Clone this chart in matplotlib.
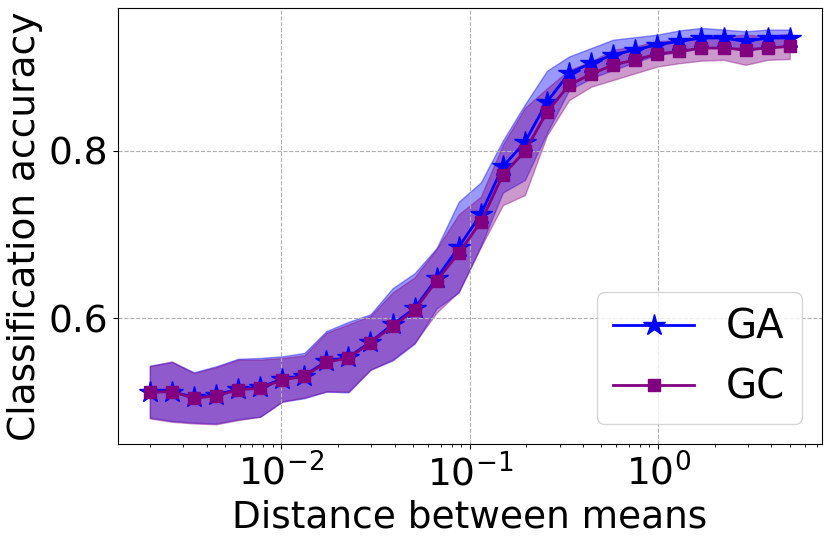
import matplotlib
matplotlib.use("Agg")
import matplotlib.pyplot as plt
import numpy as np

# distance between means (log-spaced grid, 30 points)
dist = [0.002, 0.00262, 0.00343, 0.00449, 0.00588, 0.00771, 0.01009, 0.01322,
        0.01731, 0.02268, 0.0297, 0.0389, 0.05094, 0.06672, 0.08738, 0.1144,
        0.1499, 0.1963, 0.2571, 0.3367, 0.441, 0.5776, 0.7565, 0.9908,
        1.2976, 1.6995, 2.2259, 2.9153, 3.8182, 5.0]

ga_mean = [0.513, 0.513, 0.506, 0.509, 0.516, 0.518, 0.528, 0.532, 0.549, 0.554,
           0.572, 0.593, 0.612, 0.648, 0.685, 0.724, 0.781, 0.810, 0.858, 0.892,
           0.904, 0.914, 0.920, 0.926, 0.930, 0.934, 0.934, 0.930, 0.934, 0.934]
ga_std = [0.031, 0.035, 0.030, 0.034, 0.036, 0.035, 0.027, 0.027, 0.036, 0.042,
          0.033, 0.043, 0.042, 0.036, 0.054, 0.038, 0.031, 0.045, 0.037, 0.020,
          0.018, 0.018, 0.015, 0.012, 0.013, 0.012, 0.010, 0.012, 0.010, 0.010]

gc_mean = [0.512, 0.513, 0.505, 0.508, 0.515, 0.517, 0.527, 0.531, 0.548, 0.553,
           0.571, 0.591, 0.610, 0.645, 0.678, 0.715, 0.771, 0.799, 0.846, 0.878,
           0.891, 0.902, 0.908, 0.915, 0.918, 0.922, 0.922, 0.920, 0.922, 0.924]
gc_std = [0.031, 0.036, 0.030, 0.034, 0.036, 0.034, 0.026, 0.025, 0.035, 0.040,
          0.032, 0.040, 0.039, 0.038, 0.046, 0.030, 0.036, 0.052, 0.028, 0.018,
          0.015, 0.018, 0.016, 0.015, 0.014, 0.015, 0.014, 0.018, 0.014, 0.015]

x = np.array(dist)
ga_mean, ga_std = np.array(ga_mean), np.array(ga_std)
gc_mean, gc_std = np.array(gc_mean), np.array(gc_std)

fig, ax = plt.subplots(figsize=(8.3, 5.39), dpi=100)

ax.fill_between(x, ga_mean - ga_std, ga_mean + ga_std, color="blue", alpha=0.4)
ax.plot(x, ga_mean, color="blue", marker="*", markersize=16, linewidth=2, label="GA")
ax.fill_between(x, gc_mean - gc_std, gc_mean + gc_std, color="purple", alpha=0.4)
ax.plot(x, gc_mean, color="purple", marker="s", markersize=8, linewidth=2, label="GC")

ax.set_xscale("log")
ax.set_xlabel("Distance between means", fontsize=27)
ax.set_ylabel("Classification accuracy", fontsize=27)
ax.tick_params(axis="both", which="major", labelsize=27)
ax.set_yticks([0.6, 0.8])
ax.grid(True, linestyle="--")
ax.legend(loc="lower right", fontsize=29)

fig.subplots_adjust(left=0.142, right=0.990, bottom=0.176, top=0.985)
fig.savefig("out.png", dpi=100)
